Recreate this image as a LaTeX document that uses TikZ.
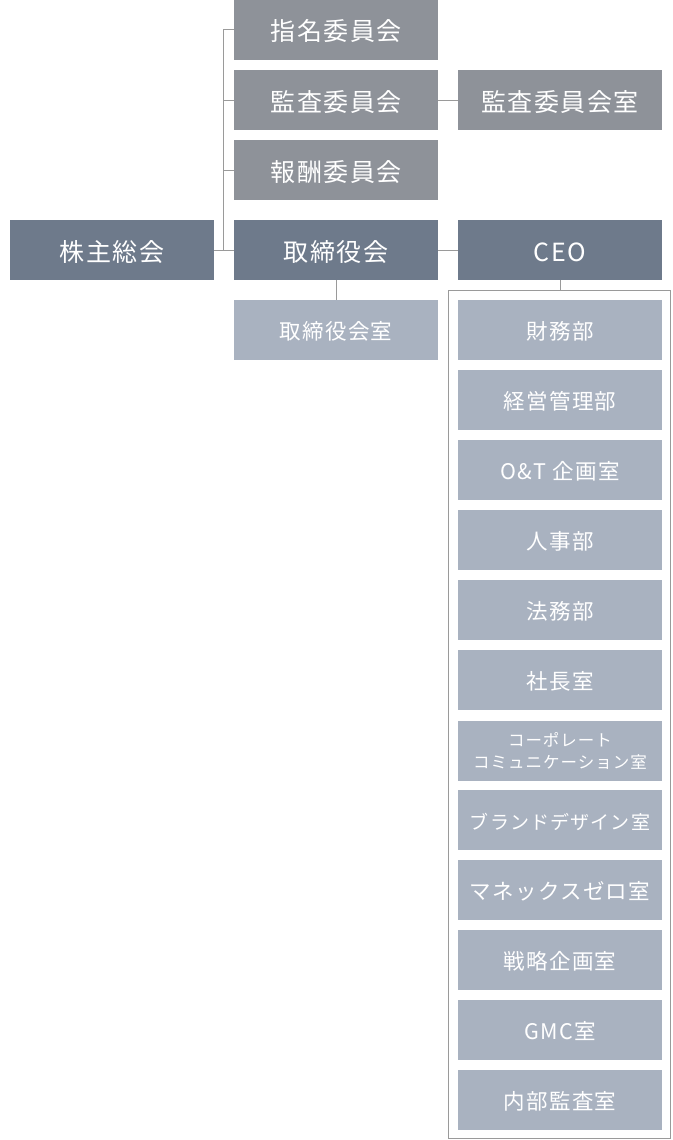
\documentclass[tikz,border=0pt]{standalone}
\usepackage{fontspec}
\newfontfamily\jp[LetterSpace=6]{Noto Sans CJK JP}
\definecolor{cgray}{HTML}{8E9299}
\definecolor{cdark}{HTML}{6E7A8B}
\definecolor{clight}{HTML}{A9B2C0}
\definecolor{cline}{HTML}{9A9A9A}
\begin{document}
\begin{tikzpicture}[x={(1pt,0)},y={(0,-1pt)},
  box/.style={minimum width=204pt,minimum height=60pt,inner sep=0pt,text=white,anchor=center},
  big/.style={box,font=\jp\fontsize{25}{30}\selectfont,text height=25pt,text depth=3pt},
  small/.style={box,fill=clight,font=\jp\fontsize{21.5}{26}\selectfont,text height=21pt,text depth=3pt},
  gbox/.style={big,fill=cgray},
  dbox/.style={big,fill=cdark},
  conn/.style={draw=cline,line width=1pt}]
\useasboundingbox (0,0) rectangle (672,1140);
\node[dbox] (gm) at (112,250) {株主総会};
\node[dbox] (tr) at (336,250) {取締役会};
\node[dbox] (ceo) at (560,250) {CEO};
\node[gbox] (c1) at (336,30) {指名委員会};
\node[gbox] (c2) at (336,100) {監査委員会};
\node[gbox] (c3) at (336,170) {報酬委員会};
\node[gbox] (c2r) at (560,100) {監査委員会室};
\node[small] (trr) at (336,330) {取締役会室};
\node[small] (d1) at (560,330) {財務部};
\node[small] (d2) at (560,400) {経営管理部};
\node[small] (d3) at (560,470) {O\&T 企画室};
\node[small] (d4) at (560,540) {人事部};
\node[small] (d5) at (560,610) {法務部};
\node[small] (d6) at (560,680) {社長室};
\node[box,fill=clight,align=center,font=\jp\fontsize{16.5}{22}\selectfont] (d7) at (560,751) {コーポレート\\コミュニケーション室};
\node[small,font=\jp\fontsize{19}{22}\selectfont] (d8) at (560,820) {ブランドデザイン室};
\node[small] (d9) at (560,890) {マネックスゼロ室};
\node[small] (d10) at (560,960) {戦略企画室};
\node[small] (d11) at (560,1030) {GMC室};
\node[small] (d12) at (560,1100) {内部監査室};
% frame
\draw[conn] (448.5,290.5) rectangle (670.5,1138.5);
\coordinate (ftop) at (560,290.5);
\draw[conn] (ceo.south) -- (ftop);
% connectors
\draw[conn] (c1.west) -- ++(-10pt,0) coordinate (bt) -- (bt |- tr.west) -- (tr.west);
\draw[conn] (c2.west) -- (c2.west -| bt);
\draw[conn] (c3.west) -- (c3.west -| bt);
\draw[conn] (gm.east) -- (tr.west);
\draw[conn] (c2.east) -- (c2r.west);
\draw[conn] (tr.east) -- (ceo.west);
\draw[conn] (tr.south) -- (trr.north);
\end{tikzpicture}
\end{document}
